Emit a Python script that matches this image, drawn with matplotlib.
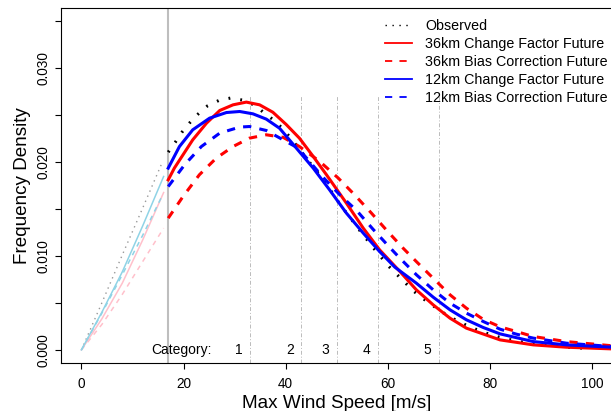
import numpy as np
import matplotlib.pyplot as plt
from matplotlib.lines import Line2D

plt.rcParams['font.family'] = ['Liberation Sans', 'DejaVu Sans']

# values (density in units of 1e-3)
# bold part, x >= 17 m/s
obs_x = [17, 18.4, 19.7, 21.2, 22.9, 24.7, 26.9, 29.2, 31.6, 33.9, 35.7, 37.6, 39.4, 41.0,
         43.9, 45.4, 46.9, 48.3, 49.7, 51.0, 52.5, 53.9, 55.4, 56.9, 58.4, 59.9, 63.3, 65.0,
         66.9, 68.9, 70.8, 72.9, 75.1, 77.4, 79.5, 81.8, 84.2, 86.5, 89.0, 91.3, 95, 100]
obs_y = [21.05, 22.12, 23.18, 24.17, 25.13, 25.98, 26.55, 26.81, 26.59, 26.06, 25.27, 24.49,
         23.57, 22.54, 20.52, 19.46, 18.46, 17.39, 16.26, 15.20, 14.20, 13.13, 12.11, 11.04,
         10.08, 9.05, 7.21, 6.28, 5.46, 4.69, 3.97, 3.30, 2.70, 2.16, 1.74, 1.35, 1.06, 0.82,
         0.64, 0.46, 0.28, 0.12]

cf36_x = [17, 18.2, 19.9, 21.8, 24.5, 27.1, 29.7, 32.3, 34.9, 37.5, 40.1, 42.7, 45.4, 48.0,
          51.9, 55.2, 58.4, 62.4, 65.6, 68.9, 72.2, 75.4, 82.0, 88.5, 95.0, 104]
cf36_y = [18.1, 19.35, 20.77, 22.36, 24.14, 25.49, 26.09, 26.38, 26.09, 25.3, 24.0, 22.54,
          20.59, 18.64, 15.62, 12.96, 10.65, 8.33, 6.39, 4.79, 3.37, 2.31, 1.06, 0.53, 0.28, 0.10]

bc36_x = [17, 19.9, 23.1, 26.4, 29.7, 32.9, 36.2, 39.5, 42.7, 46.7, 50.3, 53.5, 56.8, 59.7,
          63.0, 65.6, 68.9, 72.2, 75.4, 78.7, 82.0, 85.2, 88.5, 95.0, 104]
bc36_y = [14.02, 16.33, 18.64, 20.41, 21.65, 22.54, 22.9, 22.63, 21.65, 20.05, 18.29, 16.51,
          14.56, 12.78, 10.83, 9.4, 7.63, 5.86, 4.44, 3.25, 2.45, 1.95, 1.42, 0.88, 0.43]

cf12_x = [17, 19.2, 21.8, 25.1, 28.4, 31.0, 33.6, 36.2, 38.8, 42.1, 45.4, 48.6, 51.9, 55.2,
          58.4, 61.4, 65.6, 68.9, 72.2, 75.4, 78.7, 82.0, 88.5, 95.0, 104]
cf12_y = [19.35, 21.65, 23.43, 24.67, 25.27, 25.38, 25.13, 24.57, 23.6, 21.48, 19.35, 17.04,
          14.56, 12.43, 10.47, 8.8, 7.10, 5.61, 4.26, 3.20, 2.38, 1.70, 0.88, 0.53, 0.28]

bc12_x = [17, 20.2, 23.5, 27.1, 31.0, 32.9, 36.2, 39.5, 42.4, 47.3, 50.6, 53.9, 57.1, 60.4,
          62.4, 65.6, 68.9, 72.2, 75.4, 78.7, 82.0, 85.2, 88.5, 95.0, 104]
bc12_y = [17.39, 19.7, 21.65, 23.08, 23.72, 23.78, 23.36, 22.36, 21.5, 18.39, 16.51, 14.84,
          12.85, 10.9, 9.75, 8.0, 6.39, 4.97, 3.91, 3.02, 2.2, 1.67, 1.25, 0.71, 0.35]

# faint part, 0 - 16 m/s
low_obs_x = [0, 4, 8, 12, 15.7]
low_obs_y = [0, 5.0, 10.1, 15.1, 19.8]
low_cf36_x = [0, 4, 8, 12, 16.1]
low_cf36_y = [0, 3.3, 7.1, 11.7, 16.75]
low_bc36_x = [0, 4, 8, 12, 16.1]
low_bc36_y = [0, 2.7, 5.9, 9.4, 12.96]
low_cf12_x = [0, 4, 8, 12, 16.1]
low_cf12_y = [0, 4.0, 8.3, 13.2, 18.46]
low_bc12_x = [0, 4, 8, 12, 15.9]
low_bc12_y = [0, 3.9, 8.0, 12.2, 16.5]

cat_speeds = [33, 43, 50, 58, 70]
cat_labels = ['1', '2', '3', '4', '5']
cutoff = 17

legend_labels = ['Observed', '36km Change Factor Future', '36km Bias Correction Future',
                 '12km Change Factor Future', '12km Bias Correction Future']


def dens(v):
    return np.array(v) / 1000.0


fig = plt.figure(figsize=(6.11, 4.11), dpi=100)
W, H = 611, 411
ax = fig.add_axes([61 / W, (H - 363) / H, (612.4 - 61) / W, (363 - 8) / H])
ax.set_xlim(-4, 104)
ax.set_ylim(-0.0014, 0.0364)

# faint low-speed lines
thin = 1.1
ax.plot(low_obs_x, dens(low_obs_y), color='#999999', lw=1.0, ls=(0, (1, 3)))
ax.plot(low_cf36_x, dens(low_cf36_y), color='pink', lw=thin)
ax.plot(low_bc36_x, dens(low_bc36_y), color='pink', lw=thin, ls=(0, (3.2, 3.2)))
ax.plot(low_cf12_x, dens(low_cf12_y), color='#8fd3e6', lw=thin)
ax.plot(low_bc12_x, dens(low_bc12_y), color='#8fd3e6', lw=thin, ls=(0, (3.2, 3.2)))

# cutoff and category lines
ax.axvline(cutoff, color='#bebebe', lw=1.5)
ax.vlines(cat_speeds, -0.0014, 0.027, colors='#bbbbbb', lw=0.7, linestyles=[(0, (4, 2, 1, 2))])
for s, lab in zip(cat_speeds, cat_labels):
    ax.text(s - 1.4, 0.0, lab, ha='right', va='center', fontsize=10)
ax.text(25.5, 0.0, 'Category:', ha='right', va='center', fontsize=10)

# bold curves
bold = 2.2
ax.plot(obs_x, dens(obs_y), color='black', lw=bold, ls=(0, (0.6, 3.3)))
ax.plot(cf36_x, dens(cf36_y), color='red', lw=bold)
ax.plot(bc36_x, dens(bc36_y), color='red', lw=bold, ls=(0, (2.7, 2.7)))
ax.plot(cf12_x, dens(cf12_y), color='blue', lw=bold)
ax.plot(bc12_x, dens(bc12_y), color='blue', lw=bold, ls=(0, (2.7, 2.7)))

# axes styling (R-like)
ax.set_xticks([0, 20, 40, 60, 80, 100])
ax.set_yticks(np.arange(0, 0.0351, 0.005))
ax.set_yticklabels(['0.000', '', '0.010', '', '0.020', '', '0.030', ''])
ax.tick_params(axis='both', direction='out', length=4.3, width=0.8, labelsize=9.8)
ax.tick_params(axis='x', pad=6)
ax.tick_params(axis='y', pad=3)
for lab in ax.get_yticklabels():
    lab.set_rotation(90)
    lab.set_va('center')
for sp in ax.spines.values():
    sp.set_linewidth(0.8)

ax.set_xlabel('Max Wind Speed [m/s]', fontsize=13.6, labelpad=2.5)
ax.set_ylabel('Frequency Density', fontsize=13.6, labelpad=4)

handles = [
    Line2D([], [], color='black', lw=1.0, ls=(0, (1, 4))),
    Line2D([], [], color='red', lw=1.3),
    Line2D([], [], color='red', lw=1.3, ls=(0, (4, 4))),
    Line2D([], [], color='blue', lw=1.3),
    Line2D([], [], color='blue', lw=1.3, ls=(0, (4, 4))),
]
fig.legend(handles, legend_labels, loc='upper left', bbox_to_anchor=(385 / W, 1 - 19 / H),
           frameon=False, fontsize=10.3, handlelength=1.9, handletextpad=0.9,
           labelspacing=0.28, borderpad=0, borderaxespad=0)

fig.savefig('out.png', dpi=100)
